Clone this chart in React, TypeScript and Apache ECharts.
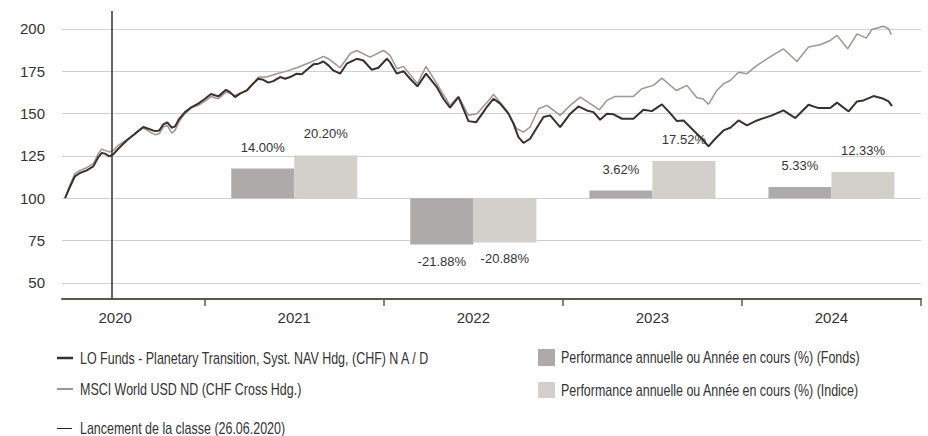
import React, { useEffect, useRef } from 'react';
import * as echarts from 'echarts';

// ---------- texts ----------
const FUND_NAME = 'LO Funds - Planetary Transition, Syst. NAV Hdg, (CHF) N A / D';
const INDEX_NAME = 'MSCI World USD ND (CHF Cross Hdg.)';
const LAUNCH_NAME = 'Lancement de la classe (26.06.2020)';
const PERF_FUND_NAME = 'Performance annuelle ou Année en cours (%) (Fonds)';
const PERF_INDEX_NAME = 'Performance annuelle ou Année en cours (%) (Indice)';

// ---------- axes ----------
const YEARS = [2020, 2021, 2022, 2023, 2024];
const YEAR_BOUNDARIES = [2021, 2022, 2023, 2024, 2025];
const Y_TICKS = [50, 75, 100, 125, 150, 175, 200];
const LAUNCH_DATE = '2020-06-26';

// ---------- annual performance (%) ----------
const PERF_YEARS = [2021, 2022, 2023, 2024];
const PERF_FUND = [14.0, -21.88, 3.62, 5.33];
const PERF_INDEX = [20.2, -20.88, 17.52, 12.33];

// ---------- rebased NAV (time as decimal year) ----------
const FUND_T = [
  2020.220, 2020.247, 2020.275, 2020.303, 2020.341, 2020.378, 2020.406, 2020.425, 2020.443, 2020.467,
  2020.489, 2020.517, 2020.564, 2020.611, 2020.657, 2020.685, 2020.722, 2020.746, 2020.769, 2020.791,
  2020.816, 2020.834, 2020.858, 2020.890, 2020.927, 2020.964, 2021.002, 2021.035, 2021.076, 2021.119,
  2021.141, 2021.169, 2021.197, 2021.235, 2021.272, 2021.299, 2021.327, 2021.355, 2021.383, 2021.421,
  2021.449, 2021.477, 2021.514, 2021.542, 2021.570, 2021.607, 2021.635, 2021.663, 2021.691, 2021.718,
  2021.756, 2021.793, 2021.849, 2021.886, 2021.933, 2021.970, 2022.017, 2022.035, 2022.073, 2022.110,
  2022.147, 2022.188, 2022.236, 2022.296, 2022.333, 2022.370, 2022.417, 2022.473, 2022.516, 2022.556,
  2022.575, 2022.612, 2022.650, 2022.696, 2022.724, 2022.752, 2022.780, 2022.817, 2022.845, 2022.892,
  2022.929, 2022.985, 2023.041, 2023.087, 2023.134, 2023.171, 2023.208, 2023.246, 2023.283, 2023.330,
  2023.394, 2023.450, 2023.497, 2023.553, 2023.599, 2023.637, 2023.674, 2023.730, 2023.777, 2023.813,
  2023.851, 2023.897, 2023.935, 2023.981, 2024.028, 2024.084, 2024.168, 2024.232, 2024.298, 2024.372,
  2024.428, 2024.493, 2024.531, 2024.596, 2024.643, 2024.679, 2024.735, 2024.791, 2024.819, 2024.838,
];
const FUND_V = [
  100.0, 106.6, 112.9, 114.9, 116.4, 118.8, 124.3, 126.7, 126.3, 124.7,
  125.9, 129.2, 134.1, 138.1, 142.0, 141.0, 139.6, 140.0, 143.6, 144.7,
  141.6, 142.4, 146.9, 150.8, 153.8, 155.8, 158.7, 161.5, 160.1, 164.0,
  162.6, 159.7, 161.7, 163.6, 167.9, 170.5, 169.9, 168.2, 169.1, 171.5,
  170.5, 171.5, 173.5, 173.1, 175.8, 179.0, 179.4, 180.7, 178.4, 175.4,
  173.5, 179.4, 182.3, 181.3, 175.8, 177.0, 182.3, 180.3, 173.5, 175.0,
  170.5, 166.0, 173.5, 165.6, 158.7, 153.4, 159.7, 145.5, 144.9, 150.8,
  153.8, 158.7, 155.8, 149.9, 144.0, 136.1, 132.6, 135.1, 140.0, 147.9,
  148.9, 142.0, 149.9, 154.2, 151.8, 150.8, 146.3, 149.9, 149.5, 146.9,
  146.9, 152.2, 151.4, 155.4, 150.2, 145.5, 145.9, 140.0, 135.1, 130.6,
  135.1, 140.0, 141.6, 145.9, 143.0, 145.9, 148.9, 151.8, 147.3, 155.2,
  153.2, 153.2, 156.4, 151.2, 157.1, 157.7, 160.3, 158.7, 157.1, 154.4,
];

const INDEX_T = [
  2020.220, 2020.247, 2020.275, 2020.303, 2020.341, 2020.378, 2020.406, 2020.425, 2020.443, 2020.467,
  2020.489, 2020.517, 2020.564, 2020.611, 2020.657, 2020.685, 2020.722, 2020.746, 2020.769, 2020.791,
  2020.816, 2020.834, 2020.858, 2020.890, 2020.927, 2020.964, 2021.002, 2021.035, 2021.076, 2021.119,
  2021.169, 2021.235, 2021.272, 2021.299, 2021.346, 2021.402, 2021.458, 2021.514, 2021.570, 2021.607,
  2021.663, 2021.700, 2021.756, 2021.812, 2021.849, 2021.923, 2021.998, 2022.035, 2022.073, 2022.110,
  2022.188, 2022.236, 2022.296, 2022.370, 2022.417, 2022.473, 2022.520, 2022.594, 2022.612, 2022.687,
  2022.743, 2022.780, 2022.817, 2022.864, 2022.911, 2022.985, 2023.041, 2023.097, 2023.153, 2023.204,
  2023.246, 2023.292, 2023.394, 2023.441, 2023.506, 2023.553, 2023.633, 2023.693, 2023.749, 2023.782,
  2023.813, 2023.860, 2023.897, 2023.935, 2023.981, 2024.028, 2024.084, 2024.177, 2024.232, 2024.307,
  2024.372, 2024.437, 2024.493, 2024.531, 2024.590, 2024.643, 2024.694, 2024.726, 2024.791, 2024.819,
  2024.834,
];
const INDEX_V = [
  100.0, 107.6, 114.5, 116.4, 118.0, 120.4, 126.3, 129.0, 128.2, 127.2,
  128.2, 131.2, 134.5, 138.1, 141.6, 139.6, 137.5, 138.1, 142.0, 143.0,
  138.4, 140.0, 145.5, 149.9, 153.4, 154.8, 157.3, 160.0, 158.7, 162.6,
  160.7, 163.6, 167.6, 171.5, 171.5, 173.5, 175.0, 177.0, 179.4, 181.0,
  183.7, 181.7, 177.0, 185.3, 187.2, 183.3, 187.2, 184.3, 176.4, 177.8,
  167.6, 177.8, 167.6, 154.8, 160.1, 148.9, 149.9, 158.7, 161.3, 151.8,
  141.0, 139.0, 142.0, 152.8, 154.8, 148.9, 154.8, 159.7, 155.8, 152.2,
  157.7, 160.1, 160.1, 164.6, 166.6, 170.9, 163.6, 166.6, 159.3, 158.7,
  155.4, 163.6, 167.6, 169.5, 174.4, 173.5, 178.4, 184.7, 188.2, 180.7,
  189.2, 190.6, 193.1, 196.1, 188.2, 197.0, 194.5, 199.6, 201.5, 200.0,
  196.5,
];

// ---------- style ----------
const FUND_LINE = '#3a302e';
const INDEX_LINE = '#a0958f';
const FUND_BAR = '#aeaaa9';
const INDEX_BAR = '#d3cfcb';
const GRID_COLOR = '#d0d0d0';
const AXIS_COLOR = '#5a5a48';
const TEXT_COLOR = '#333333';
const FONT = '"Liberation Sans", Arial, sans-serif';
const LEGEND_SCALE_X = 0.78;

const BASE = 100;
const PCT_SCALE = 1.25; // index points per 1 % of annual performance
const Y_MIN = 40.5;
const Y_MAX = 210.5;
const X_MIN = 2020.203;
const X_MAX = 2025;

function decimalYear(iso: string): number {
  const [y, m, d] = iso.split('-').map(Number);
  const start = Date.UTC(y, 0, 1);
  const end = Date.UTC(y + 1, 0, 1);
  return y + (Date.UTC(y, m - 1, d) - start) / (end - start);
}

export default function App() {
  const ref = useRef<HTMLDivElement>(null);

  useEffect(() => {
    document.body.style.margin = '0';
    if (!ref.current) return;
    const chart = echarts.init(ref.current, undefined, { renderer: 'svg' });

    const fundData = FUND_T.map((t, i) => [t, FUND_V[i]]);
    const indexData = INDEX_T.map((t, i) => [t, INDEX_V[i]]);
    const perfItem = (v: number, i: number) => ({
      value: [PERF_YEARS[i] + 0.5, v],
      label: { position: v >= 0 ? 'top' : 'bottom', distance: v >= 0 ? 15 : 10 },
    });

    const legendText = (x: number, y: number, text: string) => ({
      type: 'text',
      x,
      y,
      scaleX: LEGEND_SCALE_X,
      style: {
        text,
        fill: TEXT_COLOR,
        fontSize: 16,
        fontFamily: FONT,
        verticalAlign: 'middle',
        align: 'left',
      },
    });

    const option: any = {
      animation: false,
      textStyle: { fontFamily: FONT },
      grid: { left: 62, right: 7, top: 11, bottom: 137, containLabel: false },
      xAxis: {
        type: 'value',
        min: X_MIN,
        max: X_MAX,
        axisLine: { show: true, onZero: false, lineStyle: { color: AXIS_COLOR, width: 2 } },
        axisTick: {
          show: true,
          customValues: YEAR_BOUNDARIES,
          length: 7,
          lineStyle: { color: AXIS_COLOR, width: 1.5 },
        },
        axisLabel: {
          customValues: YEARS.map((y) => y + 0.5),
          formatter: (v: number) => String(Math.floor(v)),
          color: TEXT_COLOR,
          fontSize: 15,
          fontFamily: FONT,
          margin: 11,
        },
        splitLine: { show: false },
      },
      yAxis: [
        {
          type: 'value',
          min: Y_MIN,
          max: Y_MAX,
          axisLine: { show: false },
          axisTick: { show: false, customValues: Y_TICKS },
          axisLabel: {
            customValues: Y_TICKS,
            color: TEXT_COLOR,
            fontSize: 15,
            fontFamily: FONT,
            margin: 17,
          },
          splitLine: { show: true, lineStyle: { color: GRID_COLOR, width: 1 } },
        },
        {
          type: 'value',
          show: false,
          min: (Y_MIN - BASE) / PCT_SCALE,
          max: (Y_MAX - BASE) / PCT_SCALE,
          splitLine: { show: false },
        },
      ],
      series: [
        {
          name: PERF_FUND_NAME,
          type: 'bar',
          yAxisIndex: 1,
          barWidth: 63,
          barGap: '0%',
          itemStyle: { color: FUND_BAR },
          label: {
            show: true,
            color: TEXT_COLOR,
            fontSize: 13,
            fontFamily: FONT,
            formatter: (p: any) => p.value[1].toFixed(2) + '%',
          },
          data: PERF_FUND.map(perfItem),
          z: 2,
        },
        {
          name: PERF_INDEX_NAME,
          type: 'bar',
          yAxisIndex: 1,
          barWidth: 63,
          barGap: '0%',
          itemStyle: { color: INDEX_BAR },
          label: {
            show: true,
            color: TEXT_COLOR,
            fontSize: 13,
            fontFamily: FONT,
            formatter: (p: any) => p.value[1].toFixed(2) + '%',
          },
          data: PERF_INDEX.map(perfItem),
          z: 2,
        },
        {
          name: INDEX_NAME,
          type: 'line',
          data: indexData,
          showSymbol: false,
          symbol: 'none',
          lineStyle: { color: INDEX_LINE, width: 1.5 },
          z: 3,
        },
        {
          name: FUND_NAME,
          type: 'line',
          data: fundData,
          showSymbol: false,
          symbol: 'none',
          lineStyle: { color: FUND_LINE, width: 2 },
          z: 4,
          markLine: {
            silent: true,
            symbol: 'none',
            label: { show: false },
            lineStyle: { color: '#333333', width: 1.5, type: 'solid' },
            data: [{ name: LAUNCH_NAME, xAxis: decimalYear(LAUNCH_DATE) }],
          },
        },
      ],
      graphic: [
        { type: 'line', shape: { x1: 57, y1: 358, x2: 73, y2: 358 }, style: { stroke: FUND_LINE, lineWidth: 2.5 } },
        legendText(80, 358, FUND_NAME),
        { type: 'line', shape: { x1: 57, y1: 389, x2: 73, y2: 389 }, style: { stroke: INDEX_LINE, lineWidth: 2 } },
        legendText(80, 389, INDEX_NAME),
        { type: 'line', shape: { x1: 57, y1: 428.5, x2: 72, y2: 428.5 }, style: { stroke: '#222222', lineWidth: 1 } },
        legendText(80, 428, LAUNCH_NAME),
        { type: 'rect', shape: { x: 538, y: 349, width: 17, height: 17 }, style: { fill: FUND_BAR } },
        legendText(561, 357.5, PERF_FUND_NAME),
        { type: 'rect', shape: { x: 538, y: 382, width: 17, height: 16 }, style: { fill: INDEX_BAR } },
        legendText(561, 390, PERF_INDEX_NAME),
      ],
    };

    chart.setOption(option);
    return () => chart.dispose();
  }, []);

  return <div ref={ref} style={{ width: 928, height: 436 }} />;
}
